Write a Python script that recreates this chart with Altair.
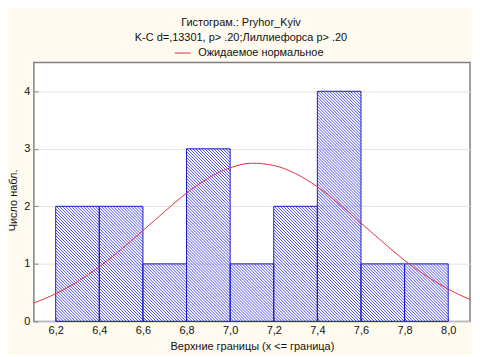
import math
import altair as alt
import pandas as pd

# ---- data ----
bin_lo = [6.2, 6.4, 6.6, 6.8, 7.0, 7.2, 7.4, 7.6, 7.8]
bin_hi = [6.4, 6.6, 6.8, 7.0, 7.2, 7.4, 7.6, 7.8, 8.0]
counts = [2, 2, 1, 3, 1, 2, 4, 1, 1]

curve_x = [6.1, 6.2, 6.3, 6.4, 6.5, 6.6, 6.7, 6.8, 6.9, 7.0, 7.1,
           7.2, 7.3, 7.4, 7.5, 7.6, 7.7, 7.8, 7.9, 8.0, 8.1]
curve_y = [0.32, 0.48, 0.69, 0.95, 1.25, 1.58, 1.91, 2.23, 2.49, 2.67, 2.75,
           2.71, 2.57, 2.34, 2.04, 1.71, 1.38, 1.06, 0.79, 0.56, 0.38]

x_ticks = [6.2, 6.4, 6.6, 6.8, 7.0, 7.2, 7.4, 7.6, 7.8, 8.0]
y_ticks = [0, 1, 2, 3, 4]

title_text = "Гистограм.: Pryhor_Kyiv"
subtitle_text = "K-C d=,13301, p> .20;Лиллиефорса p> .20"
legend_label = "Ожидаемое нормальное"
x_title = "Верхние границы (x <= граница)"
y_title = "Число набл."

# ---- style ----
W, H = 438, 260
XDOM = [6.1, 8.1]
YDOM = [0, 4.5]
FONT = "Liberation Sans"
HATCH_STEP = 3.0   # px between hatch lines (horizontal)

# ---- tables ----
bars = pd.DataFrame({"lo": bin_lo, "hi": bin_hi, "n": counts})
curve = pd.DataFrame({"x": curve_x, "y": curve_y, "s": [legend_label] * len(curve_x)})


def hatch_segments():
    """Diagonal hatch lines clipped to each bar (fill pattern of the bars)."""
    sx = W / (XDOM[1] - XDOM[0])
    sy = H / (YDOM[1] - YDOM[0])
    rows = []
    for lo, hi, n in zip(bin_lo, bin_hi, counts):
        x0 = (lo - XDOM[0]) * sx
        x1 = (hi - XDOM[0]) * sx
        hb = n * sy
        for k in range(math.ceil(x0 / HATCH_STEP), math.floor((x1 + hb) / HATCH_STEP) + 1):
            cc = k * HATCH_STEP
            xa = max(x0, cc - hb)
            xb = min(x1, cc)
            if xb - xa < 0.3:
                continue
            rows.append({"xa": XDOM[0] + xa / sx, "ya": (cc - xa) / sy,
                         "xb": XDOM[0] + xb / sx, "yb": (cc - xb) / sy})
    return pd.DataFrame(rows)


hatch = hatch_segments()

xscale = alt.Scale(domain=XDOM, nice=False, zero=False)
yscale = alt.Scale(domain=YDOM, nice=False)
lab = "replace(format(datum.value, '.1f'), '.', ',')"

x_axis = alt.Axis(values=x_ticks, labelExpr=lab, title=x_title, orient="bottom",
                  offset=-4, tickSize=4, ticks=True, tickColor="#808080",
                  domain=False, grid=False, labelPadding=3, titlePadding=5)
y_axis = alt.Axis(values=y_ticks, title=y_title, orient="left",
                  offset=-4, tickSize=4, ticks=True, tickColor="#808080",
                  domain=False, grid=True, gridColor="#e2e2e2",
                  labelPadding=4, titleX=-19, titleY=138)

hatch_layer = alt.Chart(hatch).mark_rule(stroke="#3a3ae4", strokeWidth=0.9, strokeCap="butt").encode(
    x=alt.X("xa:Q", scale=xscale, axis=x_axis),
    x2="xb:Q",
    y=alt.Y("ya:Q", scale=yscale, axis=y_axis),
    y2="yb:Q",
)

outline = alt.Chart(bars).mark_rect(fillOpacity=0, stroke="#1c1cc8", strokeWidth=1).encode(
    x=alt.X("lo:Q", scale=xscale, axis=x_axis),
    x2="hi:Q",
    y=alt.Y("n:Q", scale=yscale, axis=y_axis),
    y2=alt.datum(0),
)

line = alt.Chart(curve).mark_line(strokeWidth=1, interpolate="monotone").encode(
    x=alt.X("x:Q", scale=xscale, axis=x_axis),
    y=alt.Y("y:Q", scale=yscale, axis=y_axis),
    color=alt.Color("s:N", scale=alt.Scale(range=["#e4303e"]),
                    legend=alt.Legend(title=None, orient="none", legendX=141, legendY=-18,
                                      symbolType="stroke", symbolSize=256, symbolStrokeWidth=1,
                                      labelFont=FONT, labelFontSize=11, labelColor="#111111",
                                      labelOffset=7, padding=0)),
)

chart = alt.layer(hatch_layer, outline, line).properties(
    width=W, height=H,
    title=alt.Title(text=title_text, subtitle=subtitle_text, anchor="middle", frame="group",
                    font=FONT, fontSize=11, fontWeight="normal", color="#111111",
                    subtitleFont=FONT, subtitleFontSize=11, subtitleColor="#111111",
                    subtitlePadding=4, offset=2, dx=-11),
    background="#fffaf0",
    padding={"left": 26, "top": 54, "right": 2, "bottom": 33},
    autosize=alt.AutoSizeParams(type="none"),
).configure_view(
    stroke="#808080", strokeWidth=1.5, fill="white"
).configure_axis(
    labelFont=FONT, labelFontSize=11, labelColor="#111111",
    titleFont=FONT, titleFontSize=11, titleColor="#111111", titleFontWeight="normal",
)

chart.save("out.html", embed_options={"renderer": "svg", "actions": False})
